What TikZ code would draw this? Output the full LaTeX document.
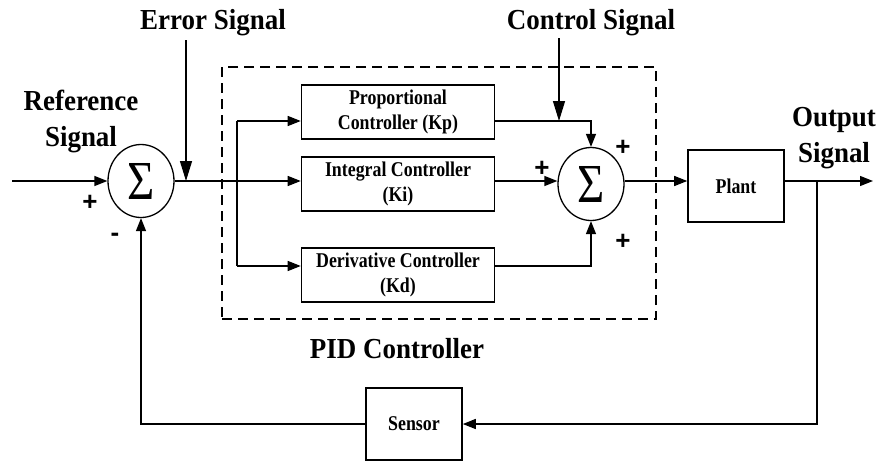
\documentclass[tikz,border=0pt]{standalone}
\usepackage{fontspec}
\setmainfont{Liberation Serif}
\newfontfamily\lblfont{Liberation Serif}[FakeStretch=0.93]
\newfontfamily\boxfont{Liberation Serif}[FakeStretch=0.85]
\newfontfamily\signfont{Liberation Sans}
\usetikzlibrary{arrows.meta, shapes.geometric}

\begin{document}
\begin{tikzpicture}[
    x=1pt, y=-1pt,
    >={Triangle[length=13pt, width=10pt]},
    conn/.style={line width=1.3pt},
    arrow/.style={->, line width=1.3pt},
    longarrow/.style={-{Triangle[length=20pt, width=12pt]}, line width=1.3pt},
    block/.style={rectangle, draw, line width=1.6pt, minimum width=193pt,
                  minimum height=54pt, inner sep=0pt, align=center,
                  font=\boxfont\bfseries\fontsize{21}{25}\selectfont},
    smallblock/.style={block, minimum width=96pt, minimum height=72pt},
    sumnode/.style={ellipse, draw, line width=1.3pt, minimum width=66pt,
                    minimum height=73pt, inner sep=0pt,
                    font=\boxfont\fontsize{55}{55}\selectfont},
    frame/.style={rectangle, draw, line width=1.3pt, dash pattern=on 10pt off 6pt,
                  minimum width=434pt, minimum height=252pt, inner sep=0pt},
    label/.style={font=\lblfont\bfseries\fontsize{29}{36}\selectfont, align=center},
    sign/.style={font=\signfont\bfseries\fontsize{26}{26}\selectfont, inner sep=0pt},
]
\useasboundingbox (0,0) rectangle (881,461);

% === Summing junctions ===

\node[sumnode] (sum-err) at (141,181) {Σ};
\node[sumnode] (sum-pid) at (591,184) {Σ};

% === PID blocks ===

\node[frame] (pid-frame) at (439,193) {};
\node[block] (kp) at (398,112) {Proportional\\Controller (Kp)};
\node[block] (ki) at (398,184) {Integral Controller\\(Ki)};
\node[block] (kd) at (398,275) {Derivative Controller\\(Kd)};

% === Plant and feedback ===

\node[smallblock] (plant) at (736,186) {Plant};
\node[smallblock] (sensor) at (414,424) {Sensor};

% === Signal points ===

\coordinate (in) at (12,181);
\coordinate (split) at (237,181);
\coordinate (lp) at (237,121);
\coordinate (ld) at (237,266);
\coordinate (err-top) at (186,40);
\coordinate (ctrl-top) at (559,38);
\coordinate (out-tap) at (817,181);
\coordinate (out) at (873,181);

% === Connectors ===

\draw[arrow] (in) -- (sum-err.west);
\draw[conn] (sum-err.east) -- (split);
\draw[arrow] (split) -- (split -| ki.west);
\draw[conn] (lp) -- (ld);
\draw[arrow] (lp) -- (lp -| kp.west);
\draw[arrow] (ld) -- (ld -| kd.west);

\draw[arrow] (lp -| kp.east) -| (sum-pid.north);
\draw[arrow] (split -| ki.east) -- (split -| sum-pid.west);
\draw[arrow] (ld -| kd.east) -| (sum-pid.south);

\draw[arrow] (split -| sum-pid.east) -- (split -| plant.west);
\draw[arrow] (split -| plant.east) -- (out);
\draw[arrow] (out-tap) |- (sensor.east);
\draw[arrow] (sensor.west) -| (sum-err.south);

\draw[longarrow] (err-top) -- (err-top |- split);
\draw[longarrow] (ctrl-top) -- (ctrl-top |- lp);

% === Labels ===

\node[label] (err-lbl) at (213,23) {Error Signal};
\node[label] (ctrl-lbl) at (591,23) {Control Signal};
\node[label] (ref-lbl) at (81,121) {Reference\\Signal};
\node[label] (out-lbl) at (834,138) {Output\\Signal};
\node[label] (pid-lbl) at (397,349) {PID Controller};

% Signs at the junctions
\node[sign] (plus-ref) at (90,203) {+};
\node[sign] (minus-fb) at (115,237) {-};
\node[sign] (plus-kp) at (623,148) {+};
\node[sign] (plus-ki) at (542,169) {+};
\node[sign] (plus-kd) at (623,242) {+};

\end{tikzpicture}
\end{document}
